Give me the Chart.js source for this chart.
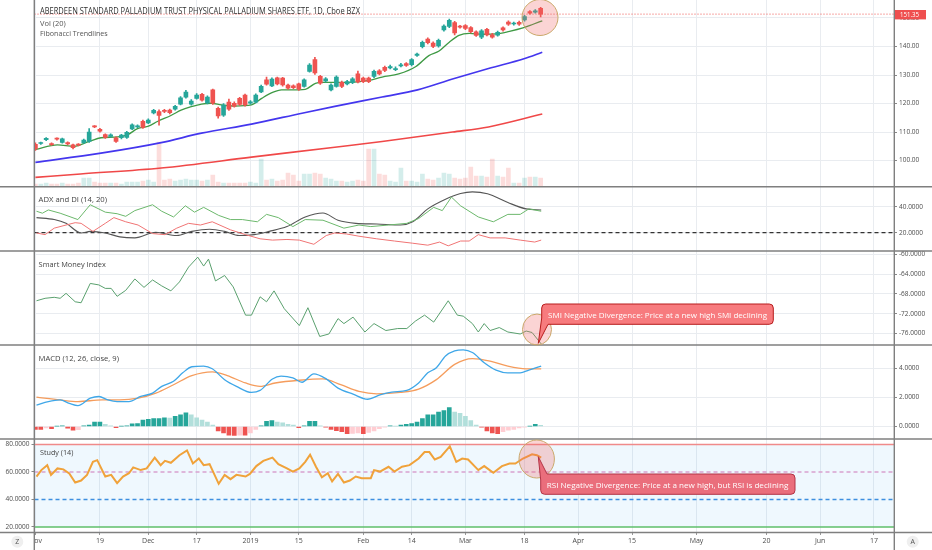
<!DOCTYPE html>
<html><head><meta charset="utf-8">
<script src="https://cdn.jsdelivr.net/npm/chart.js@4.4.1/dist/chart.umd.min.js"></script>
<style>
html,body{margin:0;padding:0;background:#fff;}
#wrap{position:relative;width:932px;height:550px;overflow:hidden;background:#fff;}
#wrap canvas{position:absolute;left:0;}
#ov{position:absolute;left:0;top:0;pointer-events:none;}
#ov text{font-family:'Open Sans',sans-serif;}
</style></head><body>
<div id="wrap">
<canvas id="c1" width="932" height="187" style="top:0px"></canvas>
<canvas id="c2" width="932" height="64" style="top:187px"></canvas>
<canvas id="c3" width="932" height="94" style="top:251px"></canvas>
<canvas id="c4" width="932" height="94" style="top:345px"></canvas>
<canvas id="c5" width="932" height="111" style="top:439px"></canvas>
<svg id="ov" width="932" height="550" xmlns="http://www.w3.org/2000/svg">
  <rect x="0" y="533" width="34" height="17" fill="#fff"/>
  <g stroke="#7f7f7f" stroke-width="1.4">
    <line x1="0" x2="932" y1="186.7" y2="186.7"/>
    <line x1="0" x2="932" y1="251" y2="251"/>
    <line x1="0" x2="932" y1="345" y2="345"/>
    <line x1="0" x2="932" y1="439" y2="439"/>
    <line x1="0" x2="932" y1="532.5" y2="532.5"/>
    <line x1="34.3" x2="34.3" y1="0" y2="550"/>
    <line x1="894.3" x2="894.3" y1="0" y2="550"/>
  </g>
  <text x="40" y="10.7" dominant-baseline="central" font-size="8.5" fill="#2f2f2f" textLength="320" lengthAdjust="spacingAndGlyphs">ABERDEEN STANDARD PALLADIUM TRUST PHYSICAL PALLADIUM SHARES ETF, 1D, Cboe BZX</text>
  <text x="40" y="22" dominant-baseline="central" font-size="8" fill="#555" textLength="25.7" lengthAdjust="spacingAndGlyphs">Vol (20)</text>
  <text x="40" y="32.7" dominant-baseline="central" font-size="8" fill="#555" textLength="67.7" lengthAdjust="spacingAndGlyphs">Fibonacci Trendlines</text>
  <text x="38.6" y="198.3" dominant-baseline="central" font-size="8" fill="#444" textLength="68.4" lengthAdjust="spacingAndGlyphs">ADX and DI (14, 20)</text>
  <text x="38.6" y="263.3" dominant-baseline="central" font-size="8" fill="#444" textLength="67.2" lengthAdjust="spacingAndGlyphs">Smart Money Index</text>
  <text x="38.6" y="357.7" dominant-baseline="central" font-size="8" fill="#444" textLength="80.3" lengthAdjust="spacingAndGlyphs">MACD (12, 26, close, 9)</text>
  <text x="40" y="451" dominant-baseline="central" font-size="8" fill="#444" textLength="33.3" lengthAdjust="spacingAndGlyphs">Study (14)</text>
  <rect x="895" y="10" width="31" height="9.4" fill="#ef4f4f"/>
  <text id="ptag" x="900" y="14.8" dominant-baseline="central" font-size="7" fill="#fff" textLength="19" lengthAdjust="spacingAndGlyphs">151.35</text>
  <g fill="rgba(240,100,100,0.28)" stroke="#c9a86a" stroke-width="1">
    <ellipse cx="540" cy="17.5" rx="18" ry="18"/>
    <ellipse cx="537" cy="329.5" rx="14.5" ry="15.5"/>
    <ellipse cx="536.7" cy="459" rx="17.7" ry="19"/>
  </g>
  <path d="M545.7 304 H769.3 Q773.3 304 773.3 308 V320.3 Q773.3 324.3 769.3 324.3 H548 L538.3 343.3 L541.7 318 V308 Q541.7 304 545.7 304 Z" fill="#f77b7e" stroke="#b71c1c" stroke-width="1"/>
  <text x="548" y="314.2" dominant-baseline="central" font-size="8" fill="#fff" textLength="219" lengthAdjust="spacingAndGlyphs">SMI Negative Divergence: Price at a new high SMI declining</text>
  <path d="M547 474 H791 Q795 474 795 478 V490.3 Q795 494.3 791 494.3 H544.7 Q540.7 494.3 540.7 490.3 V480 L538.3 456.7 L547 474 Z" fill="#ea6e7c" stroke="#b23446" stroke-width="1"/>
  <text x="546.7" y="484.2" dominant-baseline="central" font-size="8" fill="#fff" textLength="241.6" lengthAdjust="spacingAndGlyphs">RSI Negative Divergence: Price at a new high, but RSI is declining</text>
  <circle cx="17.3" cy="541.7" r="6" fill="#efefef"/>
  <text x="17.3" y="541.9" text-anchor="middle" dominant-baseline="central" font-size="7" fill="#555">Z</text>
  <circle cx="912.7" cy="541.7" r="6" fill="#efefef"/>
  <text x="912.7" y="541.9" text-anchor="middle" dominant-baseline="central" font-size="7" fill="#555">A</text>
</svg>
</div>
<script>
// ---------------- DATA ----------------
const xTickIdx = [0, 12, 21, 30, 40, 49, 61, 70, 80, 91, 101, 111, 123, 136, 146, 156];
const xTickLabels = ['Nov','19','Dec','17','2019','15','Feb','14','Mar','18','Apr','15','May','20','Jun','17'];

const openP = [105.7,106.0,107.3,105.9,107.8,106.4,106.3,105.5,105.7,106.3,
106.7,112.0,111.0,109.1,108.5,108.0,108.0,108.1,111.1,111.8,
113.8,113.2,116.7,117.2,117.6,117.7,118.0,119.8,122.2,119.8,
121.8,123.2,120.2,124.8,118.3,115.9,120.5,120.1,121.8,123.0,
120.1,120.5,124.1,128.3,126.2,129.0,128.9,126.5,126.2,126.9,
126.0,131.3,135.4,129.5,127.9,124.8,126.0,127.4,126.9,127.4,
130.4,128.9,128.9,129.5,131.5,132.7,132.5,131.9,133.2,134.0,
133.6,136.9,139.9,142.6,141.2,140.2,145.8,147.0,148.4,146.9,
147.3,146.6,145.1,143.3,146.0,144.1,144.0,146.5,148.6,147.9,
148.5,149.3,152.2,152.0,153.4];
const highP = [106.2,106.5,108.1,106.2,108.0,107.9,106.6,105.8,106.0,107.5,
111.2,112.3,111.3,109.4,109.4,108.3,109.2,110.3,112.9,112.5,
114.2,114.6,118.0,117.8,118.0,118.1,119.4,122.4,124.6,121.4,
123.5,123.6,122.7,125.1,118.8,120.0,121.6,120.6,122.2,123.3,
121.0,123.4,126.5,129.3,129.0,129.3,129.2,126.8,126.6,127.2,
128.7,134.0,136.2,129.9,129.1,126.9,129.7,127.9,128.1,129.1,
131.4,129.3,129.3,131.7,131.9,133.1,133.5,132.9,134.1,134.4,
135.8,137.7,141.9,143.0,141.6,142.6,147.6,149.6,148.8,147.4,
147.7,147.0,145.5,145.9,146.4,144.6,145.4,146.9,149.0,148.6,
148.9,150.9,152.6,152.9,153.7];
const lowP = [103.6,105.7,107.0,105.3,107.2,106.1,105.5,104.1,105.1,106.0,
106.4,111.5,110.0,107.8,108.2,106.4,107.6,107.8,110.8,111.5,
111.3,112.9,116.4,112.4,116.8,116.4,117.7,119.5,121.9,119.4,
121.5,120.8,119.9,119.7,114.9,115.5,117.6,118.7,119.3,119.1,
119.8,120.2,123.8,126.4,125.9,126.5,126.1,125.0,125.2,124.6,
125.7,131.0,130.2,126.7,127.5,124.4,125.7,125.6,126.5,127.0,
127.2,127.3,127.3,129.1,130.0,131.2,132.1,131.5,132.8,133.0,
133.2,136.5,139.5,140.9,139.6,139.8,145.4,146.6,144.1,146.4,
145.9,144.8,143.5,142.7,143.7,142.9,143.6,145.4,147.4,147.5,
147.4,148.9,151.3,151.7,150.4];
const closeP = [104.1,106.2,107.8,105.6,107.5,107.6,105.8,104.5,105.4,107.2,
110.0,111.8,110.3,108.1,109.0,106.7,108.9,109.9,112.5,112.1,
111.6,114.2,117.6,115.8,117.2,116.8,119.0,122.0,124.0,120.9,
123.0,121.2,122.3,120.1,115.7,119.5,118.0,119.1,119.7,119.5,
120.6,123.0,126.0,126.8,128.6,126.9,126.5,125.4,125.6,125.0,
128.3,133.5,130.7,127.1,128.7,126.5,129.3,126.0,127.7,128.7,
127.6,127.7,127.7,131.3,130.4,131.6,133.0,132.2,133.5,133.4,
135.4,137.3,141.5,141.3,140.0,142.2,147.2,149.2,144.8,146.8,
146.3,145.2,143.9,145.5,144.1,143.3,145.0,145.8,147.8,148.1,
147.8,150.5,151.7,152.5,151.35];
const volume = [6,6,8,6,6,8,6,6,8,18,
18,10,8,8,8,8,6,10,10,10,
12,14,10,90,14,16,12,14,16,14,
14,12,14,24,10,8,8,8,8,8,
10,8,56,14,16,12,14,28,24,12,
26,26,28,26,18,16,12,12,10,12,
14,12,76,76,26,24,12,10,38,12,
12,10,26,16,14,18,28,26,18,16,
18,40,22,22,20,56,22,20,38,8,
8,18,20,20,18];

const maFastIdx = [0,4.1,7.2,10.0,12.2,15.3,17.2,19.0,20.9,22.8,25.3,27.1,29.0,30.9,32.7,34.6,37.1,40.2,42.1,44.0,45.8,47.5,50.2,52.1,53.3,58.3,62.0,64.5,67.6,70.8,73.2,75.1,77.0,78.8,80.7,83.2,85.7,88.2,90.7,92.6,94.3];
const maFastVal = [103.9,105.5,105.0,106.7,108.0,108.3,109.1,111.2,112.0,113.8,115.9,117.7,118.9,119.8,120.1,119.5,119.1,119.5,121.8,123.8,124.8,124.8,125.0,127.1,127.4,127.4,128.1,129.3,130.4,133.0,136.8,138.4,141.5,143.9,144.6,144.3,144.4,145.3,146.5,147.8,149.0];
const maMidIdx = [0,12.2,23.4,30.9,40.2,49.6,55.7,64.5,71.1,77.6,84.3,90.9,94.3];
const maMidVal = [99.4,102.6,106.3,109.6,112.8,116.6,119.0,122.3,124.8,128.6,132.3,135.7,138.0];
const maSlowIdx = [0,8.4,23.4,40.2,55.7,64.5,77.6,84.3,94.3];
const maSlowVal = [94.1,95.3,97.4,101.2,104.7,106.7,110.0,111.8,116.3];

const plusDiIdx = [0.2,1.3,2.4,4.6,7.9,10.2,13.0,15.2,16.8,18.5,21.8,23.5,25.7,27.9,29.6,31.3,34.1,36.3,38.5,41.3,43.0,45.2,47.9,50.2,53.5,57.4,60.2,62.4,65.7,69.1,71.3,74.1,75.7,77.4,79.1,82.4,85.2,87.9,90.2,91.8,94.1];
const plusDiVal = [36.5,35.0,37.5,35.0,30.1,41.5,35.8,34.6,32.6,37.0,41.5,36.5,32.1,40.7,35.8,39.5,33.3,30.1,30.1,28.4,34.1,31.6,24.7,30.1,29.6,23.5,25.9,24.7,25.9,27.2,30.9,39.5,37.0,47.4,40.7,32.1,28.4,34.1,34.1,38.3,36.5];
const minusDiIdx = [0.2,1.8,3.5,5.7,7.4,8.5,10.7,13.0,14.6,16.8,19.1,21.8,24.1,26.3,28.5,30.7,32.9,36.3,39.1,41.8,44.1,46.8,49.1,51.8,54.1,55.7,57.9,60.2,63.5,66.8,70.2,73.0,75.2,76.8,79.1,80.7,82.4,84.6,87.4,90.2,92.9,94.1];
const minusDiVal = [19.8,18.5,23.5,25.9,27.7,27.2,21.0,27.2,31.6,28.4,25.9,19.3,18.5,23.5,27.2,25.9,28.4,22.2,18.5,15.3,14.3,14.8,14.3,11.1,17.8,19.8,19.0,17.3,15.3,13.6,11.9,10.4,12.8,9.9,13.6,13.6,18.5,16.0,16.0,14.3,12.8,14.3];
const adxIdx = [0.2,3.5,5.7,8.5,10.2,13.0,15.7,18.5,22.4,26.3,29.1,32.4,35.2,37.9,40.7,43.5,46.8,50.2,53.5,56.3,59.6,63.5,67.9,70.2,73.0,76.3,79.1,81.3,84.1,87.9,91.3,94.1];
const adxVal = [31.6,30.1,27.2,19.8,21.0,19.8,16.8,16.0,20.3,17.8,21.0,22.7,21.0,17.8,18.5,21.0,24.7,32.1,35.1,29.6,27.2,26.7,25.9,28.4,38.3,45.7,50.1,51.4,49.9,43.2,38.3,37.5];
const adxLevel = 20;

const smiIdx = [0.2,1.8,3.5,4.6,5.7,7.4,8.5,10.2,11.8,13.0,14.1,15.2,16.8,18.5,20.2,21.8,23.5,25.2,26.8,28.5,30.2,31.3,32.2,33.5,35.2,36.8,39.1,40.2,41.8,43.0,44.4,46.3,49.1,50.7,52.9,54.6,56.3,57.4,59.1,61.3,63.0,65.2,67.4,69.1,70.7,72.4,74.1,76.8,78.5,79.6,81.3,82.4,83.5,84.6,86.3,87.9,90.2,91.3,92.4,94.1];
const smiVal = [-69.4,-68.9,-68.7,-68.9,-67.9,-69.6,-69.8,-65.9,-66.2,-66.9,-66.9,-68.5,-67.3,-65.0,-66.7,-65.2,-66.4,-67.4,-65.6,-62.6,-60.6,-62.4,-61.0,-65.4,-64.3,-66.6,-72.3,-72.3,-68.6,-69.6,-67.4,-71.0,-74.4,-70.8,-76.6,-76.1,-73.0,-74.0,-72.7,-75.7,-74.0,-75.4,-75.0,-75.0,-73.5,-72.3,-73.7,-69.4,-72.3,-72.5,-74.0,-75.7,-74.0,-75.4,-74.8,-75.7,-76.1,-75.5,-75.8,-78.1];

const macdIdx = [0.2,2.4,4.6,6.3,7.9,10.2,11.8,13.5,15.2,17.4,19.6,21.8,23.5,25.7,27.4,29.1,31.3,32.9,35.2,37.4,40.2,41.8,44.1,45.7,47.9,49.6,51.8,54.1,56.3,59.1,61.8,64.1,66.3,69.1,71.3,73.0,74.6,76.3,78.0,79.6,81.3,83.5,85.7,87.9,90.2,91.8,94.1];
const macdVal = [1.48,1.72,1.83,1.6,1.44,1.95,2.07,1.83,1.72,1.72,2.07,2.3,2.77,3.12,3.7,4.12,4.16,3.98,3.23,2.77,2.35,2.49,3.28,3.47,3.35,3.05,3.63,3.28,2.65,2.23,1.88,2.18,2.37,2.49,3.0,3.7,4.05,4.86,5.21,5.28,5.1,4.4,3.89,3.7,3.7,3.89,4.16];
const signalIdx = [0.2,4.6,7.9,12.4,15.7,19.1,22.4,25.7,29.1,32.9,35.7,39.1,41.8,44.6,49.1,53.5,56.8,60.2,63.5,67.9,71.3,74.6,78.0,81.3,84.6,87.9,91.3,94.1];
const signalVal = [2.02,1.83,1.72,1.83,1.83,1.95,2.3,2.88,3.51,3.77,3.51,3.0,2.77,3.0,3.19,3.28,2.88,2.42,2.25,2.35,2.58,3.23,4.28,4.68,4.51,4.16,3.98,3.98];
const macdHist = [-0.2,-0.2,-0.1,-0.15,0.02,0.05,-0.12,-0.25,-0.22,0.05,
0.1,0.3,0.3,0.15,0.05,-0.08,0.02,0.05,0.18,0.2,
0.45,0.5,0.55,0.55,0.6,0.58,0.7,0.8,0.95,0.8,
0.6,0.45,0.3,0.1,-0.3,-0.45,-0.6,-0.62,-0.6,-0.6,
-0.45,-0.2,0.05,0.35,0.4,0.3,0.25,0.15,0.1,-0.08,
0.05,0.35,0.35,0.05,-0.05,-0.2,-0.28,-0.35,-0.5,-0.48,
-0.45,-0.5,-0.4,-0.3,-0.15,-0.05,0.05,0.03,0.1,0.15,
0.2,0.3,0.55,0.8,0.8,1.0,1.1,1.3,1.0,0.9,
0.7,0.4,0.1,-0.05,-0.3,-0.45,-0.5,-0.35,-0.25,-0.2,
-0.1,-0.05,0.02,0.15,0.08];

const rsiIdx = [0.2,1.1,2.2,2.9,4.1,5.2,6.3,7.4,8.5,9.6,10.7,11.5,13.0,14.1,15.2,16.3,17.4,18.2,19.6,20.7,22.2,23.3,24.1,25.2,26.8,28.2,29.3,30.4,31.3,32.4,34.1,35.2,36.3,37.4,39.1,39.9,41.1,42.4,44.1,45.2,46.8,47.9,49.1,50.2,51.1,52.2,53.3,54.4,55.2,56.3,57.4,58.5,59.6,60.7,62.4,63.0,64.1,65.7,66.8,68.2,69.6,71.3,72.4,73.3,74.3,75.4,77.1,78.3,79.4,80.5,82.4,83.5,85.2,86.8,88.2,89.3,90.7,92.4,93.3,94.1];
const rsiVal = [56.7,61.4,65.0,57.9,62.6,61.9,58.9,52.4,53.8,57.9,67.4,68.6,56.7,57.9,51.9,56.7,59.1,63.4,61.4,62.6,70.5,65.0,68.1,66.7,72.2,75.7,66.2,69.8,65.0,65.7,51.4,57.9,54.8,57.9,56.7,58.6,64.3,68.1,70.5,65.7,62.6,60.3,62.6,67.4,72.6,63.8,56.2,59.1,53.1,58.6,52.4,53.8,56.7,55.5,55.5,61.4,60.3,63.8,60.3,63.8,65.0,69.8,74.5,74.5,69.1,71.0,78.6,67.4,69.8,69.1,61.4,64.3,59.5,64.3,66.2,66.2,69.8,72.9,72.2,70.5];
const rsiBands = [80, 60, 40, 20];

const priceTicks = [100, 110, 120, 130, 140, 150];
const adxTicks = [20, 40];
const smiTicks = [-76, -72, -68, -64, -60];
const macdTicks = [0, 2, 4];
const rsiTicks = [20, 40, 60, 80];

// ---------------- STYLE / HELPERS ----------------
const X_MIN = -0.17, X_MAX = 159.74;
const GRID = '#e9ecf0';
const UP = '#26a69a', DN = '#ef5350';
const VUP = 'rgba(38,166,154,0.2)', VDN = 'rgba(239,83,80,0.2)';

Chart.defaults.font.family = "'Open Sans', sans-serif";
Chart.defaults.color = '#4d4d4d';

const pts = (xs, ys) => xs.map((x, i) => ({ x, y: ys[i] }));
const hline = (v) => [{ x: X_MIN, y: v }, { x: X_MAX, y: v }];

function xAxis(show) {
  return {
    type: 'linear', min: X_MIN, max: X_MAX, offset: false,
    afterBuildTicks: s => { s.ticks = xTickIdx.map(v => ({ value: v })); },
    ticks: { display: show, autoSkip: false, maxRotation: 0, minRotation: 0, padding: 2,
      color: '#4d4d4d', font: { size: 7 }, callback: (v, i) => xTickLabels[i] },
    grid: { color: GRID, drawTicks: show, tickLength: 3, tickColor: '#999', offset: false },
    border: { display: false },
    afterFit: s => { s.height = show ? 18 : 0; s.paddingLeft = 0; s.paddingRight = 0; s.paddingTop = 0; s.paddingBottom = 0; }
  };
}
function yAxis(pos, min, max, tickVals, dec, gridOn) {
  return {
    type: 'linear', position: pos, min, max,
    afterBuildTicks: s => { s.ticks = tickVals.map(v => ({ value: v })); },
    ticks: { padding: 2, color: '#4d4d4d', font: { size: 6.5 }, callback: v => Number(v).toFixed(dec) },
    grid: { color: GRID, drawOnChartArea: gridOn, tickLength: 3, tickColor: '#888' },
    border: { display: false },
    afterFit: s => { s.width = pos === 'right' ? 38 : 34.5; s.paddingTop = 0; s.paddingBottom = 0; }
  };
}
function opts(scales, padL, padR) {
  return {
    responsive: false, animation: false, events: [],
    layout: { padding: { left: padL, right: padR, top: 0, bottom: 0 } },
    plugins: { legend: { display: false }, tooltip: { enabled: false } },
    elements: { point: { radius: 0 } },
    scales
  };
}
const line = (data, color, width, extra) => Object.assign({ type: 'line', data, borderColor: color, borderWidth: width, pointRadius: 0, fill: false, tension: 0 }, extra || {});

// ---------------- PANE 1: price ----------------
const idx = closeP.map((_, i) => i);
const isUp = idx.map(i => closeP[i] >= openP[i]);
const cCol = idx.map(i => isUp[i] ? UP : DN);
const lastClose = closeP[closeP.length - 1];
document.getElementById('ptag').textContent = lastClose.toFixed(2);

new Chart(document.getElementById('c1'), {
  type: 'line',
  data: { datasets: [
    line(pts(maFastIdx, maFastVal), '#3f9a45', 1.3, { cubicInterpolationMode: 'monotone', order: 4 }),
    line(pts(maMidIdx, maMidVal), '#4436ee', 1.7, { cubicInterpolationMode: 'monotone', order: 4 }),
    line(pts(maSlowIdx, maSlowVal), '#f04848', 1.6, { cubicInterpolationMode: 'monotone', order: 4 }),
    { type: 'bar', yAxisID: 'yv', data: idx.map(i => ({ x: i, y: volume[i] })), backgroundColor: idx.map(i => isUp[i] ? VUP : VDN), barThickness: 4, grouped: false, order: 10 },
    { type: 'bar', data: idx.map(i => ({ x: i, y: [lowP[i], highP[i]] })), backgroundColor: cCol, barThickness: 1, grouped: false, order: 3 },
    { type: 'bar', data: idx.map(i => ({ x: i, y: [openP[i], closeP[i]] })), backgroundColor: cCol, barThickness: 4, minBarLength: 1, grouped: false, order: 2 },
    line(hline(lastClose), '#ef5350', 1, { borderDash: [1, 2], order: 1 })
  ]},
  options: opts({
    x: xAxis(false),
    y: yAxis('right', 90.74, 156.3, priceTicks, 2, true),
    yv: { type: 'linear', display: false, min: 0, max: 374 }
  }, 34.5, 0)
});

// ---------------- PANE 2: ADX ----------------
new Chart(document.getElementById('c2'), {
  type: 'line',
  data: { datasets: [
    line(pts(minusDiIdx, minusDiVal), '#f07474', 1),
    line(pts(plusDiIdx, plusDiVal), '#6cb86c', 1),
    line(pts(adxIdx, adxVal), '#555555', 1.1, { cubicInterpolationMode: 'monotone' }),
    line(hline(adxLevel), '#333333', 1.3, { borderDash: [4, 3] })
  ]},
  options: opts({ x: xAxis(false), y: yAxis('right', 5.92, 55.15, adxTicks, 4, true) }, 34.5, 0)
});

// ---------------- PANE 3: SMI ----------------
new Chart(document.getElementById('c3'), {
  type: 'line',
  data: { datasets: [ line(pts(smiIdx, smiVal), '#5aa06e', 1) ] },
  options: opts({ x: xAxis(false), y: yAxis('right', -78.32, -59.36, smiTicks, 4, true) }, 34.5, 0)
});

// ---------------- PANE 4: MACD ----------------
const histCol = macdHist.map((h, i) => {
  const prev = i > 0 ? macdHist[i - 1] : 0;
  if (h >= 0) return h >= prev ? '#26a69a' : '#b2dfdb';
  return h <= prev ? '#ef5350' : '#ffcdd2';
});
new Chart(document.getElementById('c4'), {
  type: 'line',
  data: { datasets: [
    { type: 'bar', data: idx.map(i => ({ x: i, y: macdHist[i] })), backgroundColor: histCol, barThickness: 4, grouped: false, order: 5 },
    line(pts(signalIdx, signalVal), '#f59c5c', 1.3, { cubicInterpolationMode: 'monotone', order: 2 }),
    line(pts(macdIdx, macdVal), '#3fa7e8', 1.3, { cubicInterpolationMode: 'monotone', order: 1 })
  ]},
  options: opts({ x: xAxis(false), y: yAxis('right', -0.862, 5.62, macdTicks, 4, true) }, 34.5, 0)
});

// ---------------- PANE 5: RSI (Study) ----------------
const bandColors = ['#f08a8a', '#d9a3d0', '#3d8fe0', '#5fbf6a'];
const bandDash = [[], [4, 3], [4, 3], []];
const bandSets = rsiBands.map((v, k) => line(hline(v), bandColors[k], 1.3, {
  borderDash: bandDash[k], order: k === 0 ? 9 : 5,
  fill: k === 0 ? { target: rsiBands.length - 1 } : false,
  backgroundColor: 'rgba(33,150,243,0.07)'
}));
new Chart(document.getElementById('c5'), {
  type: 'line',
  data: { datasets: bandSets.concat([ line(pts(rsiIdx, rsiVal), '#f0a23a', 2, { order: 1 }) ]) },
  options: opts({ x: xAxis(true), y: yAxis('left', 16.36, 84, rsiTicks, 4, false) }, 0, 38)
});
</script>
</body></html>
